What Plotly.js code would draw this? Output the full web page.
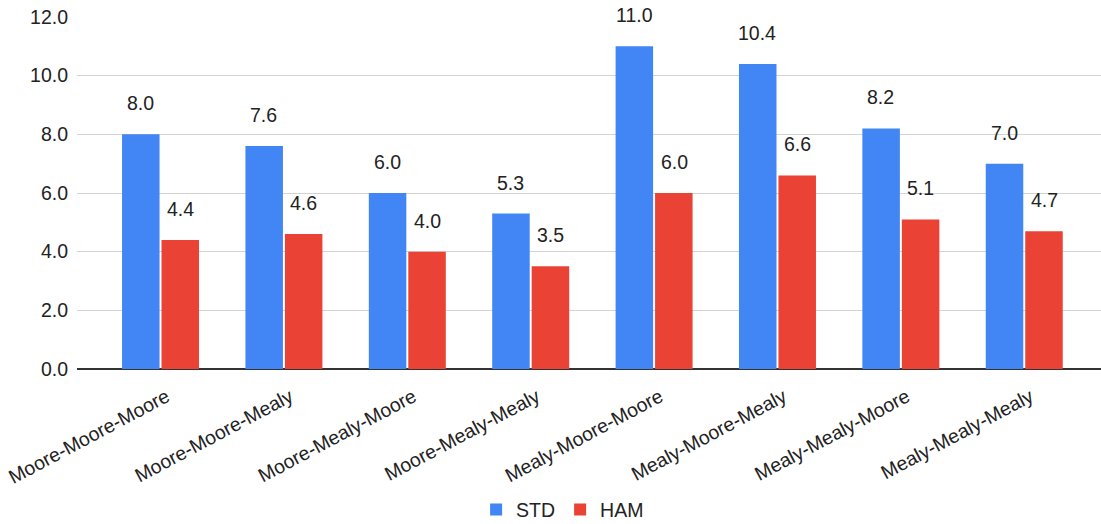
<!DOCTYPE html>
<html>
<head>
<meta charset="utf-8">
<script src="https://cdn.plot.ly/plotly-3.0.1.min.js"></script>
<style>html,body{margin:0;padding:0;background:#fff;}#chart{width:1101px;height:524px;}</style>
</head>
<body>
<div id="chart"></div>
<script>
const categories = ["Moore-Moore-Moore","Moore-Moore-Mealy","Moore-Mealy-Moore","Moore-Mealy-Mealy","Mealy-Moore-Moore","Mealy-Moore-Mealy","Mealy-Mealy-Moore","Mealy-Mealy-Mealy"];
const stdValues = [8.0, 7.6, 6.0, 5.3, 11.0, 10.4, 8.2, 7.0];
const hamValues = [4.4, 4.6, 4.0, 3.5, 6.0, 6.6, 5.1, 4.7];
const seriesNames = ["STD", "HAM"];
const yTicks = [0, 2, 4, 6, 8, 10, 12];

const FONT = "Arial, 'Liberation Sans', sans-serif";
const FS = 19.5;
const BLUE = "#4285F4", RED = "#EA4335";

const traces = [
  {type: "bar", name: seriesNames[0], x: categories, y: stdValues, marker: {color: BLUE}, hoverinfo: "none"},
  {type: "bar", name: seriesNames[1], x: categories, y: hamValues, marker: {color: RED}, hoverinfo: "none"}
];

const annotations = [];
[[stdValues, -20], [hamValues, 20]].forEach(([vals, dx]) => {
  vals.forEach((v, i) => {
    annotations.push({
      x: categories[i], y: v, xref: "x", yref: "y",
      text: v.toFixed(1), showarrow: false,
      xshift: dx, yshift: 31, yanchor: "middle",
      font: {family: FONT, size: FS, color: "#222"}
    });
  });
});

const layout = {
  width: 1101, height: 524,
  margin: {l: 77, r: 0, t: 17, b: 155, autoexpand: false},
  paper_bgcolor: "#fff", plot_bgcolor: "#fff",
  barmode: "group", bargap: 0.36, bargroupgap: 0.05,
  font: {family: FONT, size: FS, color: "#222"},
  xaxis: {
    type: "category", range: [-0.677, 7.622],
    tickangle: -28, tickfont: {family: FONT, size: FS, color: "#222"},
    showgrid: false, zeroline: false, showline: false, ticks: "",
    ticklabelstandoff: 12, ticklabelshift: 6
  },
  yaxis: {
    range: [0, 12], tickvals: yTicks, ticktext: yTicks.map(v => v.toFixed(1)),
    tickfont: {family: FONT, size: FS, color: "#222"},
    gridcolor: "#d4d4d4", gridwidth: 1,
    zeroline: true, zerolinecolor: "#333", zerolinewidth: 2,
    showline: false, ticks: "", ticklabelstandoff: 8
  },
  showlegend: true,
  legend: {
    orientation: "h", xref: "container", yref: "container",
    x: 0.511, xanchor: "center", y: 0.027, yanchor: "middle",
    font: {family: FONT, size: FS, color: "#222"},
    itemwidth: 30, traceorder: "normal"
  },
  annotations: annotations
};

Plotly.newPlot("chart", traces, layout, {displayModeBar: false, staticPlot: true});
</script>
</body>
</html>
